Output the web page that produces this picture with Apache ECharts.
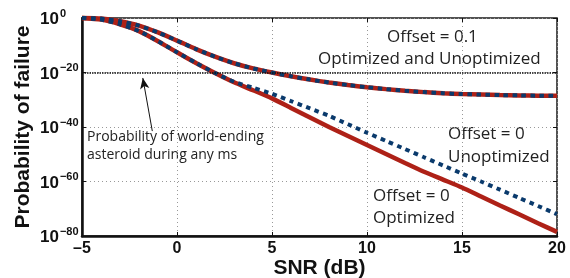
<!DOCTYPE html>
<html>
<head>
<meta charset="utf-8">
<script src="https://cdn.jsdelivr.net/npm/echarts@6/dist/echarts.min.js"></script>
<style>
  html, body { margin: 0; padding: 0; background: #fff; }
  #main { width: 570px; height: 278px; }
</style>
</head>
<body>
<div id="main"></div>
<script>
// SNR in dB, x axis
var snr = [-5, -4, -3, -2, -1, 0, 1, 2, 3, 4, 5, 6, 7, 8, 9, 10, 11, 12, 13, 14, 15, 16, 17, 18, 19, 20];
// log10 of probability of failure
var offset01 = [0, -0.2, -1.2, -2.8, -5.3, -8.3, -11.4, -14.2, -16.6, -18.5, -20, -21.4, -22.6, -23.7, -24.6, -25.4, -26.1, -26.7, -27.2, -27.6, -27.9, -28.1, -28.3, -28.4, -28.5, -28.5];
var offset0Opt = [0, -0.6, -2.3, -4.8, -8.5, -12.6, -16.5, -20.2, -23.6, -26.5, -29.5, -33, -36.5, -40, -43.3, -46.6, -49.9, -53.2, -56.4, -59.3, -62.2, -65.5, -68.8, -72, -75.3, -78.5];
var offset0Unopt = [0, -0.6, -2.3, -4.8, -8.5, -12.6, -16.5, -20.2, -23.4, -25.6, -27.8, -30.5, -33.2, -35.9, -39, -42.1, -45.1, -48.1, -51.1, -54.1, -57.1, -60, -63, -66, -69, -72];
// asteroid level (10^-20) and arrow from note to it
var asteroidLevel = -20;
var arrowFrom = [-1.3, -41.5];
var arrowTo = [-1.8, -22];
var xTicks = [-5, 0, 5, 10, 15, 20];
var yTickExp = [0, -20, -40, -60, -80];

var RED = '#ae2117';
var BLUE = '#0a3a6c';

function pairs(ys) {
    return snr.map(function (x, i) { return [x, ys[i]]; });
}

var chart = echarts.init(document.getElementById('main'));

var noteFont = '"Open Sans", sans-serif';

var option = {
    animation: false,
    grid: {
        left: 82, right: 13, top: 18, bottom: 42,
        outerBoundsMode: 'none', containLabel: false,
        show: true, borderColor: '#1a1a1a', borderWidth: 1.5
    },
    xAxis: [{
        type: 'value',
        min: xTicks[0], max: xTicks[xTicks.length - 1], interval: 5,
        name: 'SNR (dB)', nameLocation: 'middle', nameGap: 22, nameMoveOverlap: false,
        nameTextStyle: { fontFamily: 'Liberation Sans', fontWeight: 'bold', fontSize: 21, color: '#111' },
        axisLine: { onZero: false, lineStyle: { color: '#111', width: 2.5 } },
        axisTick: { inside: true, length: 4, lineStyle: { color: '#111', width: 1 } },
        axisLabel: {
            margin: 5, color: '#111', fontFamily: 'Liberation Sans', fontWeight: 'bold', fontSize: 16,
            formatter: function (v) { return v < 0 ? '\u2013' + (-v) : '' + v; }
        },
        splitLine: { show: true, lineStyle: { color: '#999', type: [1, 3], width: 1 } }
    }, {
        type: 'value', position: 'top',
        min: xTicks[0], max: xTicks[xTicks.length - 1], interval: 5,
        axisLine: { show: false, onZero: false },
        axisTick: { inside: true, length: 4, lineStyle: { color: '#111' } },
        axisLabel: { show: false }, splitLine: { show: false }
    }],
    yAxis: [{
        type: 'value',
        min: yTickExp[yTickExp.length - 1], max: yTickExp[0], interval: 20,
        name: 'Probability of failure', nameLocation: 'middle', nameGap: 48, nameMoveOverlap: false,
        nameTextStyle: { fontFamily: 'Liberation Sans', fontWeight: 'bold', fontSize: 21, color: '#111' },
        axisLine: { onZero: false, lineStyle: { color: '#111', width: 2.5 } },
        axisTick: { inside: true, length: 4, lineStyle: { color: '#111' } },
        axisLabel: {
            margin: 42, align: 'left',
            formatter: function (v) {
                return '{b|10}{s|' + (v < 0 ? '\u2212' + (-v) : v) + '}';
            },
            rich: {
                b: { fontFamily: 'Liberation Sans', fontWeight: 'bold', fontSize: 17, color: '#111', verticalAlign: 'bottom', lineHeight: 20 },
                s: { fontFamily: 'Liberation Sans', fontWeight: 'bold', fontSize: 11, color: '#111', verticalAlign: 'top', lineHeight: 20, padding: [0, 0, 10, 1] }
            }
        },
        splitLine: { show: true, lineStyle: { color: '#999', type: [1, 3], width: 1 } }
    }, {
        type: 'value', position: 'right',
        min: yTickExp[yTickExp.length - 1], max: yTickExp[0], interval: 20,
        axisLine: { show: false, onZero: false },
        axisTick: { show: true, inside: true, length: 4, lineStyle: { color: '#111' } },
        axisLabel: { show: false }, splitLine: { show: false }
    }],
    series: [{
        name: 'Offset 0.1 optimized',
        type: 'line', data: pairs(offset01), showSymbol: false, smooth: 0.2, clip: false,
        lineStyle: { color: RED, width: 4.5 },
        markLine: {
            silent: true, symbol: 'none', label: { show: false },
            lineStyle: { color: '#111', type: [1.5, 1], width: 1.5 },
            data: [{ yAxis: asteroidLevel }]
        }
    }, {
        name: 'Offset 0 optimized',
        type: 'line', data: pairs(offset0Opt), showSymbol: false, smooth: 0.2, clip: false,
        lineStyle: { color: RED, width: 4.5 }
    }, {
        name: 'Offset 0.1 unoptimized',
        type: 'line', data: pairs(offset01), showSymbol: false, smooth: 0.2, clip: false,
        lineStyle: { color: BLUE, width: 4, type: [4.5, 4.5], cap: 'butt' }
    }, {
        name: 'Offset 0 unoptimized',
        type: 'line', data: pairs(offset0Unopt), showSymbol: false, smooth: 0.2, clip: false,
        lineStyle: { color: BLUE, width: 4, type: [4.5, 4.5], cap: 'butt' },
        markLine: {
            silent: true, label: { show: false },
            symbol: ['none', 'arrow'], symbolSize: [7, 11],
            lineStyle: { color: '#111', type: 'solid', width: 1 },
            data: [[{ coord: arrowFrom }, { coord: arrowTo }]]
        }
    }],
    graphic: [
        { type: 'text', left: 387, top: 29, style: { text: 'Offset = 0.1', font: '17px ' + noteFont, fill: '#222' } },
        { type: 'text', left: 318, top: 51, style: { text: 'Optimized and Unoptimized', font: '17px ' + noteFont, fill: '#222' } },
        { type: 'text', left: 448, top: 126, style: { text: 'Offset = 0', font: '17px ' + noteFont, fill: '#222' } },
        { type: 'text', left: 448, top: 149, style: { text: 'Unoptimized', font: '17px ' + noteFont, fill: '#222' } },
        { type: 'text', left: 373, top: 188, style: { text: 'Offset = 0', font: '17px ' + noteFont, fill: '#222' } },
        { type: 'text', left: 373, top: 210, style: { text: 'Optimized', font: '17px ' + noteFont, fill: '#222' } },
        { type: 'text', left: 87, top: 130, style: { text: 'Probability of world-ending', font: '14px ' + noteFont, fill: '#222' } },
        { type: 'text', left: 87, top: 148, style: { text: 'asteroid during any ms', font: '14px ' + noteFont, fill: '#222' } }
    ]
};

chart.setOption(option);
</script>
</body>
</html>
